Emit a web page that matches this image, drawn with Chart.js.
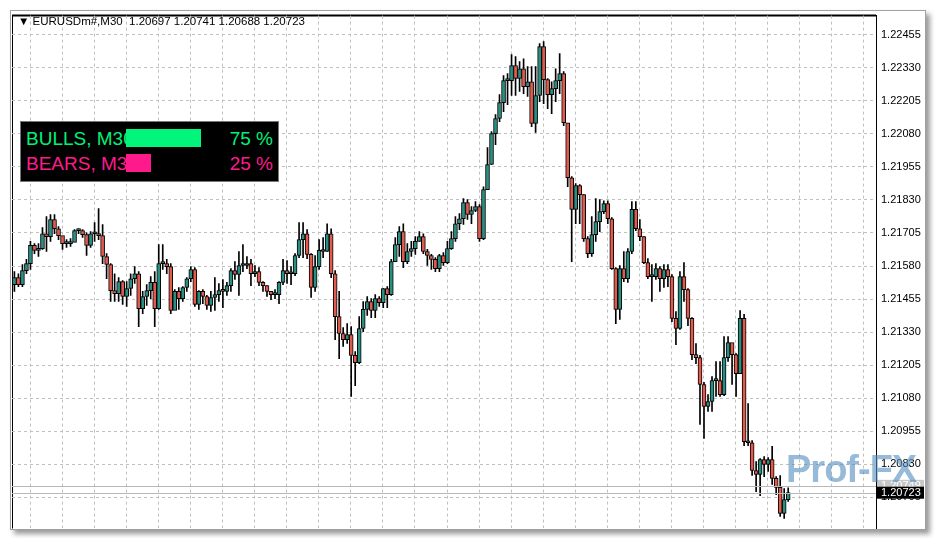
<!DOCTYPE html>
<html>
<head>
<meta charset="utf-8">
<script src="https://cdn.jsdelivr.net/npm/chart.js@4"></script>
<style>
  body { margin:0; background:#fff; width:935px; height:538px; overflow:hidden; font-family:"Liberation Sans", Arial, sans-serif; }
  #frame { position:absolute; left:10px; top:10px; width:914px; height:518px; border:1px solid #a0a0a0; box-shadow:4px 4px 5px #9a9a9a; background:#fff; }
  #wrap { position:absolute; left:12px; top:4px; width:912px; height:536px; }
  #hdr { position:absolute; left:18px; top:15px; font-size:11.5px; color:#000; }
  #panel { position:absolute; left:20px; top:121px; width:257px; height:59px; background:#000; border:1px solid #777; }
  .row { position:absolute; left:5px; font-size:19px; }
  .bar { position:absolute; left:105px; height:18px; }
  .pct { position:absolute; right:5px; font-size:19px; }
  #wm { position:absolute; left:786px; top:448px; font-size:38px; font-weight:bold; white-space:nowrap; color:rgba(80,140,190,0.6); letter-spacing:-1px; }
</style>
</head>
<body>
<div id="frame"></div>
<div id="wrap"><canvas id="c"></canvas></div>
<div id="hdr">&#9660; EURUSDm#,M30&nbsp; 1.20697 1.20741 1.20688 1.20723</div>
<div id="panel">
  <div class="row" style="top:6px;color:#00f078">BULLS, M30</div>
  <div class="bar" style="top:7px;width:75px;background:#00f57a"></div>
  <div class="pct" style="top:6px;color:#00f078">75 %</div>
  <div class="row" style="top:31px;color:#ff1a8c">BEARS, M3</div>
  <div class="bar" style="top:32px;width:25px;background:#ff1a8c"></div>
  <div class="pct" style="top:31px;color:#ff1a8c">25 %</div>
</div>
<div id="wm">Prof-FX</div>
<script>
const firstOpen = 1.21510;
const closes = [1.21536,1.21510,1.21563,1.21589,1.21658,1.21639,1.21646,1.21702,1.21691,1.21756,
1.21721,1.21695,1.21665,1.21665,1.21669,1.21714,1.21714,1.21699,1.21658,1.21702,
1.21702,1.21695,1.21616,1.21586,1.21487,1.21476,1.21521,1.21465,1.21495,1.21532,
1.21551,1.21419,1.21465,1.21487,1.21518,1.21419,1.21589,1.21589,1.21578,1.21412,
1.21484,1.21457,1.21499,1.21532,1.21567,1.21435,1.21484,1.21465,1.21431,1.21461,
1.21472,1.21487,1.21484,1.21506,1.21563,1.21548,1.21582,1.21582,1.21589,1.21551,
1.21559,1.21518,1.21506,1.21484,1.21472,1.21472,1.21518,1.21563,1.21551,1.21551,
1.21620,1.21680,1.21702,1.21624,1.21499,1.21578,1.21639,1.21635,1.21702,1.21551,
1.21389,1.21325,1.21302,1.21321,1.21242,1.21215,1.21344,1.21416,1.21446,1.21412,
1.21457,1.21442,1.21495,1.21472,1.21597,1.21661,1.21710,1.21597,1.21635,1.21646,
1.21673,1.21691,1.21635,1.21620,1.21605,1.21570,1.21620,1.21593,1.21646,1.21684,
1.21740,1.21759,1.21820,1.21775,1.21790,1.21805,1.21684,1.21869,1.21964,1.22081,
1.22138,1.22198,1.22281,1.22281,1.22338,1.22289,1.22326,1.22258,1.22277,1.22119,
1.22225,1.22410,1.22285,1.22228,1.22251,1.22281,1.22308,1.22122,1.21914,1.21794,
1.21884,1.21850,1.21684,1.21627,1.21699,1.21748,1.21786,1.21816,1.21759,1.21570,
1.21416,1.21570,1.21532,1.21635,1.21794,1.21721,1.21691,1.21593,1.21540,1.21540,
1.21570,1.21532,1.21567,1.21540,1.21382,1.21344,1.21540,1.21491,1.21382,1.21245,
1.21234,1.21132,1.21049,1.21068,1.21147,1.21147,1.21094,1.21234,1.21291,1.21245,
1.21173,1.21382,1.20916,1.20912,1.20807,1.20792,1.20848,1.20830,1.20848,1.20777,
1.20743,1.20645,1.20697,1.20723];
const highs = [1.21559,1.21551,1.21586,1.21605,1.21673,1.21665,1.21665,1.21725,1.21767,1.21775,
1.21775,1.21729,1.21691,1.21680,1.21684,1.21718,1.21721,1.21718,1.21706,1.21710,
1.21744,1.21797,1.21737,1.21627,1.21589,1.21551,1.21536,1.21525,1.21521,1.21551,
1.21578,1.21559,1.21484,1.21510,1.21540,1.21559,1.21661,1.21661,1.21605,1.21589,
1.21491,1.21499,1.21502,1.21536,1.21578,1.21574,1.21487,1.21491,1.21469,1.21484,
1.21536,1.21514,1.21529,1.21518,1.21570,1.21597,1.21635,1.21661,1.21616,1.21605,
1.21582,1.21574,1.21521,1.21506,1.21484,1.21491,1.21521,1.21605,1.21601,1.21578,
1.21627,1.21744,1.21744,1.21718,1.21627,1.21620,1.21680,1.21688,1.21740,1.21721,
1.21563,1.21484,1.21347,1.21362,1.21351,1.21257,1.21389,1.21446,1.21465,1.21457,
1.21472,1.21465,1.21495,1.21502,1.21605,1.21688,1.21729,1.21740,1.21665,1.21673,
1.21691,1.21710,1.21702,1.21643,1.21624,1.21612,1.21624,1.21631,1.21673,1.21710,
1.21767,1.21778,1.21835,1.21831,1.21805,1.21824,1.21812,1.21880,1.22028,1.22088,
1.22153,1.22228,1.22300,1.22308,1.22380,1.22372,1.22353,1.22364,1.22334,1.22334,
1.22334,1.22421,1.22429,1.22289,1.22277,1.22326,1.22383,1.22315,1.22119,1.21918,
1.21892,1.21888,1.21850,1.21691,1.21767,1.21835,1.21831,1.21827,1.21827,1.21763,
1.21574,1.21582,1.21635,1.21646,1.21824,1.21824,1.21756,1.21691,1.21608,1.21586,
1.21589,1.21578,1.21586,1.21586,1.21548,1.21408,1.21559,1.21593,1.21495,1.21385,
1.21287,1.21242,1.21140,1.21094,1.21162,1.21219,1.21219,1.21313,1.21313,1.21287,
1.21249,1.21412,1.21397,1.21060,1.20920,1.20841,1.20852,1.20860,1.20856,1.20898,
1.20784,1.20788,1.20739,1.20741];
const lows = [1.21484,1.21502,1.21502,1.21551,1.21567,1.21627,1.21616,1.21643,1.21635,1.21673,
1.21702,1.21680,1.21643,1.21650,1.21654,1.21673,1.21702,1.21688,1.21620,1.21650,
1.21673,1.21680,1.21589,1.21532,1.21446,1.21446,1.21446,1.21435,1.21427,1.21469,
1.21514,1.21351,1.21400,1.21431,1.21457,1.21351,1.21416,1.21567,1.21551,1.21400,
1.21416,1.21416,1.21446,1.21484,1.21521,1.21427,1.21416,1.21438,1.21416,1.21408,
1.21412,1.21446,1.21423,1.21469,1.21484,1.21529,1.21469,1.21559,1.21570,1.21506,
1.21540,1.21506,1.21484,1.21465,1.21453,1.21457,1.21438,1.21510,1.21514,1.21510,
1.21544,1.21612,1.21612,1.21608,1.21461,1.21484,1.21567,1.21612,1.21635,1.21536,
1.21302,1.21230,1.21276,1.21287,1.21087,1.21128,1.21211,1.21332,1.21393,1.21385,
1.21385,1.21427,1.21423,1.21423,1.21469,1.21597,1.21616,1.21574,1.21589,1.21616,
1.21624,1.21673,1.21627,1.21582,1.21567,1.21559,1.21559,1.21582,1.21589,1.21643,
1.21673,1.21718,1.21737,1.21756,1.21740,1.21786,1.21673,1.21680,1.21869,1.21964,
1.22039,1.22126,1.22164,1.22190,1.22225,1.22225,1.22240,1.22232,1.22221,1.22107,
1.22085,1.22202,1.22194,1.22175,1.22156,1.22202,1.22232,1.22111,1.21880,1.21597,
1.21740,1.21740,1.21673,1.21612,1.21616,1.21673,1.21710,1.21778,1.21740,1.21567,
1.21362,1.21378,1.21521,1.21518,1.21627,1.21714,1.21676,1.21589,1.21532,1.21446,
1.21529,1.21484,1.21499,1.21502,1.21370,1.21283,1.21340,1.21446,1.21355,1.21226,
1.21211,1.20981,1.20928,1.21030,1.21030,1.21087,1.21087,1.21090,1.21219,1.21132,
1.21087,1.21173,1.20901,1.20901,1.20788,1.20727,1.20712,1.20784,1.20803,1.20754,
1.20716,1.20633,1.20626,1.20690];
const yTicks = [1.22455,1.22330,1.22205,1.22080,1.21955,1.21830,1.21705,1.21580,1.21455,1.21330,1.21205,1.21080,1.20955,1.20830,1.20705];
const bidPrice = 1.20723, askPrice = 1.20749;

const opens = [firstOpen].concat(closes.slice(0, -1));
const wickData = closes.map((c, i) => ({x: i, y: [lows[i], highs[i]]}));
const bodyData = closes.map((c, i) => ({x: i, y: [opens[i], c]}));
const bodyColors = closes.map((c, i) => c >= opens[i] ? '#2a8f83' : '#e05a4e');

const priceLines = {
  id: 'priceLines',
  afterDatasetsDraw(chart) {
    const {ctx, chartArea: a, scales: {y}} = chart;
    ctx.save();
    ctx.strokeStyle = '#b8b8b8';
    ctx.lineWidth = 1;
    [askPrice, bidPrice].forEach(p => {
      const py = Math.round(y.getPixelForValue(p)) + 0.5;
      ctx.beginPath(); ctx.moveTo(a.left, py); ctx.lineTo(a.right, py); ctx.stroke();
    });
    ctx.font = '11px "Liberation Sans", Arial';
    ctx.textBaseline = 'middle';
    let py = y.getPixelForValue(askPrice);
    ctx.fillStyle = '#c8c8c8'; ctx.fillRect(a.right + 1, py - 6, 47, 12);
    ctx.fillStyle = '#fff'; ctx.fillText(askPrice.toFixed(5), a.right + 5, py);
    py = y.getPixelForValue(bidPrice);
    ctx.fillStyle = '#000'; ctx.fillRect(a.right + 1, py - 6, 47, 12);
    ctx.fillStyle = '#fff'; ctx.fillText(bidPrice.toFixed(5), a.right + 5, py);
    ctx.restore();
  }
};

new Chart('c', {
  type: 'bar',
  data: {
    datasets: [{
      data: wickData,
      backgroundColor: '#000',
      barThickness: 1,
      grouped: false,
      order: 2
    }, {
      data: bodyData,
      backgroundColor: bodyColors,
      borderColor: '#000',
      borderWidth: 1,
      borderSkipped: false,
      barThickness: 4,
      minBarLength: 2,
      grouped: false,
      order: 1
    }]
  },
  options: {
    responsive: true,
    maintainAspectRatio: false,
    animation: false,
    layout: {padding: 0},
    plugins: {legend: {display: false}, tooltip: {enabled: false}},
    scales: {
      x: {
        type: 'linear', offset: false, min: -0.6, max: 214.9,
        afterBuildTicks: s => { const t = []; for (let v = 7.9; v < 214; v += 8) t.push({value: v}); s.ticks = t; },
        afterFit: s => { s.height = 0; },
        ticks: {display: false},
        grid: {color: '#c0c0c0', drawTicks: false, lineWidth: 1},
        border: {display: false, dash: [3, 3]}
      },
      y: {
        position: 'right', min: 1.20588, max: 1.22527,
        afterBuildTicks: s => { s.ticks = yTicks.map(v => ({value: v})); },
        afterFit: s => { s.width = 48; },
        ticks: {color: '#000', font: {family: '"Liberation Sans", Arial', size: 11}, padding: 5, callback: v => v.toFixed(5)},
        grid: {color: '#c0c0c0', drawTicks: false},
        border: {display: true, color: '#000', width: 1, dash: [3, 3]}
      }
    }
  },
  plugins: [priceLines, {
    id: 'frameLines',
    beforeDraw(chart) {
      const {ctx, chartArea: a} = chart;
      ctx.save();
      ctx.strokeStyle = '#000'; ctx.lineWidth = 2;
      ctx.beginPath(); ctx.moveTo(a.left, a.bottom); ctx.lineTo(a.left, a.top); ctx.lineTo(a.right, a.top); ctx.stroke();
      ctx.lineWidth = 1;
      ctx.beginPath(); ctx.moveTo(a.right + 0.5, a.top); ctx.lineTo(a.right + 0.5, a.bottom); ctx.stroke();
      ctx.restore();
    }
  }]
});
</script>
</body>
</html>
